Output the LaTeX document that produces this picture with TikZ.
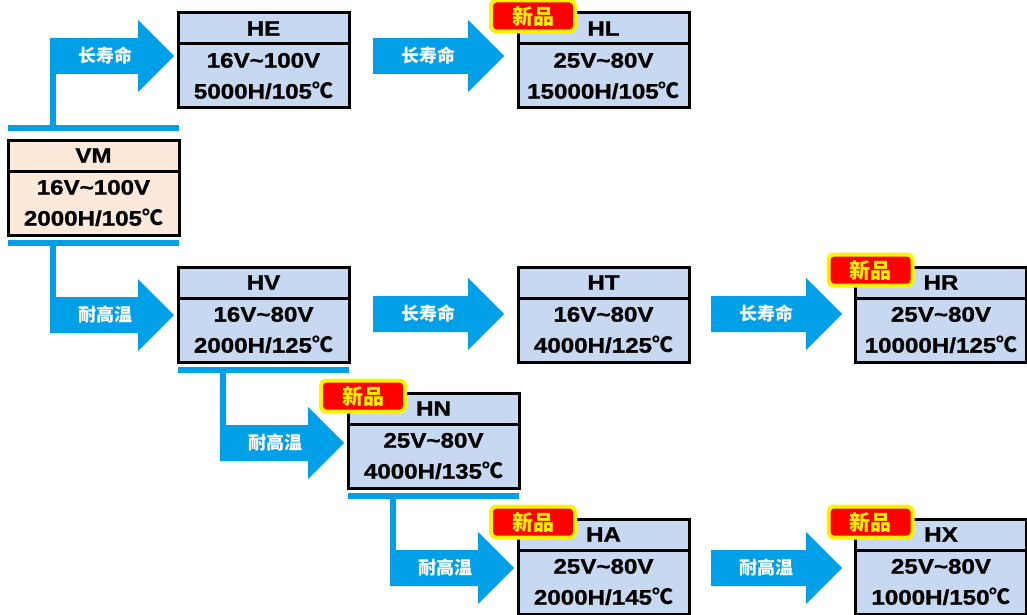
\documentclass[tikz,border=0pt]{standalone}
\usepackage{fontspec}
\usetikzlibrary{positioning}
\newfontfamily\latn{Liberation Sans}[FakeStretch=1.15, BoldFeatures={FakeBold=1.2}]
\newfontfamily\cjk{Noto Sans CJK SC}
\newcommand{\cel}{{\cjk ℃}}
\definecolor{boxblue}{HTML}{C6D9F0}
\definecolor{boxpeach}{HTML}{FDE9D9}
\definecolor{flowblue}{HTML}{00A0E9}

\begin{document}
\begin{tikzpicture}[x=1pt,y=-1pt,
    head/.style={draw, line width=3pt, fill=boxblue, minimum width=171pt, minimum height=31pt,
      inner sep=0pt, outer sep=0pt, font=\latn\bfseries\fontsize{21}{21}\selectfont},
    spec/.style={head, minimum height=64pt, align=center, font=\latn\bfseries\fontsize{21}{31}\selectfont},
    bar/.style={flowblue, line width=6pt},
    tag/.style={text=white, font=\cjk\bfseries\fontsize{18}{18}\selectfont},
    newbadge/.style={draw=yellow, line width=4pt, fill=red, rounded corners=5pt, minimum width=84pt,
      minimum height=31pt, inner sep=0pt, text=yellow, font=\cjk\bfseries\fontsize{21}{21}\selectfont},
    blk/.style={insert path={++(0,-18) -- ++({#1-36},0) -- ++(0,-18) -- ++(36,36) -- ++(-36,36)
      -- ++(0,-18) -- ++({36-#1},0) -- cycle}}]
  \useasboundingbox (0,0) rectangle (1027,615);

  % series boxes
  \node[head, fill=boxpeach] (VMh) at (93.5,155.5) {VM};
  \node[spec, fill=boxpeach, below=0pt of VMh] (VM) {16V\textasciitilde100V\\2000H/105\cel};
  \node[head] (HEh) at (263.5,28.5) {HE};
  \node[spec, below=0pt of HEh] (HE) {16V\textasciitilde100V\\5000H/105\cel};
  \node[head] (HLh) at (603.5,28.5) {HL};
  \node[spec, below=0pt of HLh] (HL) {25V\textasciitilde80V\\15000H/105\cel};
  \node[head] (HVh) at (263.5,282.5) {HV};
  \node[spec, below=0pt of HVh] (HV) {16V\textasciitilde80V\\2000H/125\cel};
  \node[head] (HTh) at (603.5,282.5) {HT};
  \node[spec, below=0pt of HTh] (HT) {16V\textasciitilde80V\\4000H/125\cel};
  \node[head] (HRh) at (941,282.5) {HR};
  \node[spec, below=0pt of HRh] (HR) {25V\textasciitilde80V\\10000H/125\cel};
  \node[head] (HNh) at (433.5,408.5) {HN};
  \node[spec, below=0pt of HNh] (HN) {25V\textasciitilde80V\\4000H/135\cel};
  \node[head] (HAh) at (603.5,534.5) {HA};
  \node[spec, below=0pt of HAh] (HA) {25V\textasciitilde80V\\2000H/145\cel};
  \node[head] (HXh) at (941,534.5) {HX};
  \node[spec, below=0pt of HXh] (HX) {25V\textasciitilde80V\\1000H/150\cel};

  % branch bars
  \draw[bar] ([yshift=12pt]VMh.north west) -- ([yshift=12pt]VMh.north east);
  \draw[bar] ([yshift=-8pt]VM.south west) -- ([yshift=-8pt]VM.south east);
  \draw[bar] ([yshift=-8pt]HV.south west) -- ([yshift=-8pt]HV.south east);
  \draw[bar] ([yshift=-8pt]HN.south west) -- ([yshift=-8pt]HN.south east);
  \coordinate (s1) at ([xshift=45pt,yshift=12pt]VMh.north west);
  \coordinate (s2) at ([xshift=45pt,yshift=-8pt]VM.south west);
  \coordinate (s3) at ([xshift=45pt,yshift=-8pt]HV.south west);
  \coordinate (s4) at ([xshift=45pt,yshift=-8pt]HN.south west);

  % arrow tails
  \coordinate (t1) at (50,56);
  \coordinate (t2) at (50,315);
  \coordinate (t3) at (220,443);
  \coordinate (t4) at (390,568);
  \coordinate (t5) at (373,56);
  \coordinate (t6) at (373,314);
  \coordinate (t7) at (711,314);
  \coordinate (t8) at (711,568);

  \draw[bar] (s1) -- (s1 |- t1);
  \draw[bar] (s2) -- (s2 |- t2);
  \draw[bar] (s3) -- (s3 |- t3);
  \draw[bar] (s4) -- (s4 |- t4);
  \fill[flowblue] (t1) [blk=124];
  \fill[flowblue] (t2) [blk=124];
  \fill[flowblue] (t3) [blk=124];
  \fill[flowblue] (t4) [blk=124];
  \fill[flowblue] (t5) [blk=131];
  \fill[flowblue] (t6) [blk=131];
  \fill[flowblue] (t7) [blk=131];
  \fill[flowblue] (t8) [blk=131];

  \node[tag] (life1) at ([xshift=55pt]t1) {长寿命};
  \node[tag] (heat1) at ([xshift=55pt]t2) {耐高温};
  \node[tag] (heat2) at ([xshift=55pt]t3) {耐高温};
  \node[tag] (heat3) at ([xshift=55pt]t4) {耐高温};
  \node[tag] (life2) at ([xshift=55pt]t5) {长寿命};
  \node[tag] (life3) at ([xshift=55pt]t6) {长寿命};
  \node[tag] (life4) at ([xshift=55pt]t7) {长寿命};
  \node[tag] (heat4) at ([xshift=55pt]t8) {耐高温};

  % new badges
  \node[newbadge] (newHL) at ([xshift=15pt,yshift=-3pt]HLh.north west) {新品};
  \node[newbadge] (newHR) at ([xshift=15pt,yshift=-3pt]HRh.north west) {新品};
  \node[newbadge] (newHN) at ([xshift=15pt,yshift=-3pt]HNh.north west) {新品};
  \node[newbadge] (newHA) at ([xshift=15pt,yshift=-3pt]HAh.north west) {新品};
  \node[newbadge] (newHX) at ([xshift=15pt,yshift=-3pt]HXh.north west) {新品};
\end{tikzpicture}
\end{document}
